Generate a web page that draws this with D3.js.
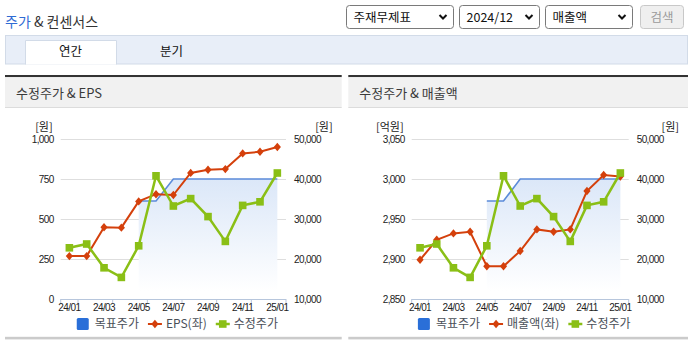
<!DOCTYPE html>
<html>
<head>
<meta charset="utf-8">
<script src="https://cdn.jsdelivr.net/npm/d3@7"></script>
<style>
  html, body { margin: 0; padding: 0; background: #fff; }
  svg { display: block; font-family: "Noto Sans CJK KR", "Noto Sans", sans-serif; }
  .num { font-family: "Liberation Sans", Arial, sans-serif; font-size: 10px; letter-spacing: -0.6px; fill: #222; }
</style>
</head>
<body>
<svg id="page" width="693" height="341"></svg>
<script>
// ---- data ----
const months = ["24/01","24/02","24/03","24/04","24/05","24/06","24/07","24/08","24/09","24/10","24/11","24/12","25/01"];
const monthTicks = ["24/01","24/03","24/05","24/07","24/09","24/11","25/01"];
const eps = [268, 268, 448, 446, 610, 655, 650, 788, 808, 812, 910, 920, 950];
const sales = [2899, 2924, 2932, 2934, 2891, 2891, 2910, 2937, 2934, 2937, 2985, 3005, 3003];
const adjPrice = [22800, 23750, 17800, 15400, 23300, 40800, 33250, 35100, 30600, 24400, 33400, 34300, 41500];
const targetPrice = [null, null, null, null, 34500, 34500, 40000, 40000, 40000, 40000, 40000, 40000, 40000];
const epsTicks = [0, 250, 500, 750, 1000];
const salesTicks = [2850, 2900, 2950, 3000, 3050];
const priceTicks = [10000, 20000, 30000, 40000, 50000];
const filterLabels = ["주재무제표", "2024/12", "매출액"];
const tabLabels = ["연간", "분기"];

const svg = d3.select("#page");
const defs = svg.append("defs");
const grad = defs.append("linearGradient").attr("id", "targetFill")
  .attr("x1", 0).attr("y1", 0).attr("x2", 0).attr("y2", 1);
grad.append("stop").attr("offset", "0%").attr("stop-color", "#dbe7f8");
grad.append("stop").attr("offset", "100%").attr("stop-color", "#ffffff");

// ---- page header ----
const title = svg.append("text").attr("x", 5).attr("y", 26.5).style("font-size", "14px");
title.append("tspan").attr("fill", "#2f6bd4").text("주가");
title.append("tspan").attr("fill", "#333").text(" & 컨센서스");

const selectBoxes = [
  { x: 346.5, w: 107 },
  { x: 459.5, w: 80 },
  { x: 545.5, w: 87 }
];
selectBoxes.forEach((b, i) => {
  const g = svg.append("g").attr("transform", `translate(${b.x},5.5)`);
  g.append("rect").attr("width", b.w).attr("height", 23).attr("rx", 3)
    .attr("fill", "#fff").attr("stroke", "#7a7a7a");
  g.append("text").attr("x", 7).attr("y", 16.5).attr("fill", "#111")
    .style("font-size", "12.5px").text(filterLabels[i]);
  g.append("path").attr("d", `M${b.w - 14},9.5 L${b.w - 10.5},13 L${b.w - 7},9.5`)
    .attr("fill", "none").attr("stroke", "#111").attr("stroke-width", 2);
});
const btn = svg.append("g").attr("transform", "translate(640.5,5.5)");
btn.append("rect").attr("width", 43).attr("height", 23).attr("rx", 3)
  .attr("fill", "#efefef").attr("stroke", "#c8c8c8");
btn.append("text").attr("x", 21.5).attr("y", 16.5).attr("text-anchor", "middle")
  .attr("fill", "#9a9a9a").style("font-size", "12.5px").text("검색");

// ---- tab bar ----
svg.append("rect").attr("x", 5.5).attr("y", 35.5).attr("width", 682).attr("height", 28.5)
  .attr("fill", "#e8eef8").attr("stroke", "#d2dbe8");
svg.append("rect").attr("x", 25.5).attr("y", 40.5).attr("width", 91).attr("height", 24)
  .attr("fill", "#fff");
svg.append("path").attr("d", "M25.5,64.5 V40.5 H116.5 V64.5")
  .attr("fill", "none").attr("stroke", "#d2dbe8");
svg.append("text").attr("x", 70.5).attr("y", 56).attr("text-anchor", "middle")
  .attr("fill", "#111").style("font-size", "12.5px").text(tabLabels[0]);
svg.append("text").attr("x", 171.5).attr("y", 56).attr("text-anchor", "middle")
  .attr("fill", "#111").style("font-size", "12.5px").text(tabLabels[1]);

// ---- chart panels ----
const panels = [
  { x0: 5, x1: 341.7, plot: [60.7, 286], title: "수정주가 & EPS",
    leftUnit: "[원]", values: eps, domain: [0, 1000], ticks: epsTicks, name: "EPS(좌)" },
  { x0: 348.3, x1: 688, plot: [411.7, 628.7], title: "수정주가 & 매출액",
    leftUnit: "[억원]", values: sales, domain: [2850, 3050], ticks: salesTicks, name: "매출액(좌)" }
];

const plotTop = 139, plotBottom = 299;
const diamondPath = "M0,-4.2L3.6,0L0,4.2L-3.6,0Z";

panels.forEach(p => {
  const g = svg.append("g");
  // panel frame
  g.append("rect").attr("x", p.x0).attr("y", 75).attr("width", p.x1 - p.x0).attr("height", 2.2).attr("fill", "#333");
  g.append("rect").attr("x", p.x0).attr("y", 77.2).attr("width", p.x1 - p.x0).attr("height", 30).attr("fill", "#f1f1f1");
  g.append("rect").attr("x", p.x0).attr("y", 107).attr("width", p.x1 - p.x0).attr("height", 1).attr("fill", "#dcdcdc");
  g.append("rect").attr("x", p.x0).attr("y", 336.8).attr("width", p.x1 - p.x0).attr("height", 2.6).attr("fill", "#cbcbcb");
  g.append("text").attr("x", p.x0 + 11).attr("y", 97.8).attr("fill", "#3a3a3a")
    .style("font-size", "13px").text(p.title);

  // scales
  const x = d3.scaleBand().domain(months).range(p.plot).padding(0);
  const cx = d => x(d) + x.bandwidth() / 2;
  const yL = d3.scaleLinear().domain(p.domain).range([plotBottom, plotTop]);
  const yR = d3.scaleLinear().domain([priceTicks[0], priceTicks[priceTicks.length - 1]]).range([plotBottom, plotTop]);

  // gridlines
  g.append("g").selectAll("line").data(p.ticks.slice(1)).join("line")
    .attr("x1", p.plot[0]).attr("x2", p.plot[1])
    .attr("y1", d => Math.round(yL(d)) + 0.5).attr("y2", d => Math.round(yL(d)) + 0.5)
    .attr("stroke", "#dedede");

  // left axis
  const la = g.append("g").attr("transform", `translate(${p.plot[0] - 7},0)`)
    .call(d3.axisLeft(yL).tickValues(p.ticks).tickSize(0).tickPadding(0).tickFormat(d3.format(",")));
  la.select(".domain").remove();
  la.selectAll("text").attr("class", "num").attr("fill", null).attr("dy", "0.35em");
  g.append("text").attr("x", p.plot[0] - 8).attr("y", 131).attr("text-anchor", "end")
    .attr("fill", "#222").style("font-size", "11px").text(p.leftUnit);

  // right axis
  const ra = g.append("g").attr("transform", `translate(${p.plot[1] + 8},0)`)
    .call(d3.axisRight(yR).tickValues(priceTicks).tickSize(0).tickPadding(0).tickFormat(d3.format(",")));
  ra.select(".domain").remove();
  ra.selectAll("text").attr("class", "num").attr("fill", null).attr("dy", "0.35em");
  g.append("text").attr("x", p.x1 - 9).attr("y", 131).attr("text-anchor", "end")
    .attr("fill", "#222").style("font-size", "11px").text("[원]");

  // bottom axis: line, boundary ticks and month labels
  g.append("line").attr("x1", p.plot[0]).attr("x2", p.plot[1])
    .attr("y1", plotBottom + 0.5).attr("y2", plotBottom + 0.5).attr("stroke", "#b7c6dc");
  const boundaryIdx = [0, 1, 3, 5, 7, 9, 11, 13];
  g.append("g").selectAll("line").data(boundaryIdx).join("line")
    .attr("x1", i => p.plot[0] + i * x.bandwidth()).attr("x2", i => p.plot[0] + i * x.bandwidth())
    .attr("y1", plotBottom).attr("y2", plotBottom + 5).attr("stroke", "#b7c6dc");
  const ba = g.append("g").attr("transform", `translate(0,${plotBottom + 5})`)
    .call(d3.axisBottom(x).tickValues(monthTicks).tickSize(0).tickPadding(0));
  ba.select(".domain").remove();
  ba.selectAll("text").attr("class", "num").attr("fill", null).attr("dy", "0.71em");

  // target price area + line
  const tIdx = months.map((m, i) => ({ m, v: targetPrice[i] }));
  g.append("path").datum(tIdx)
    .attr("d", d3.area().defined(d => d.v != null).x(d => cx(d.m)).y0(plotBottom - 8).y1(d => yR(d.v)))
    .attr("fill", "url(#targetFill)");
  g.append("path").datum(tIdx)
    .attr("d", d3.line().defined(d => d.v != null).x(d => cx(d.m)).y(d => yR(d.v)))
    .attr("fill", "none").attr("stroke", "#5b8bd9").attr("stroke-width", 1.6);

  // left-axis series (red diamonds)
  const lv = months.map((m, i) => ({ m, v: p.values[i] }));
  g.append("path").datum(lv)
    .attr("d", d3.line().x(d => cx(d.m)).y(d => yL(d.v)))
    .attr("fill", "none").attr("stroke", "#d4400c").attr("stroke-width", 2);
  g.append("g").selectAll("path").data(lv).join("path")
    .attr("transform", d => `translate(${cx(d.m)},${yL(d.v)})`)
    .attr("d", diamondPath).attr("fill", "#d4400c");

  // adjusted price (green squares)
  const pv = months.map((m, i) => ({ m, v: adjPrice[i] }));
  g.append("path").datum(pv)
    .attr("d", d3.line().x(d => cx(d.m)).y(d => yR(d.v)))
    .attr("fill", "none").attr("stroke", "#8abf16").attr("stroke-width", 2.5);
  g.append("g").selectAll("rect").data(pv).join("rect")
    .attr("x", d => cx(d.m) - 3.8).attr("y", d => yR(d.v) - 3.8)
    .attr("width", 7.6).attr("height", 7.6).attr("fill", "#8abf16");

  // legend
  const lg = g.append("g");
  const items = [
    { label: "목표주가", kind: "square" },
    { label: p.name, kind: "diamond" },
    { label: "수정주가", kind: "greensq" }
  ];
  let cursor = 0;
  items.forEach(it => {
    const ig = lg.append("g");
    let sw;
    if (it.kind === "square") {
      ig.append("rect").attr("x", 0).attr("y", -6).attr("width", 12).attr("height", 12).attr("rx", 1.5).attr("fill", "#2a6fd8");
      sw = 12;
    } else if (it.kind === "diamond") {
      ig.append("line").attr("x1", 0).attr("x2", 14).attr("y1", 0).attr("y2", 0).attr("stroke", "#d4400c").attr("stroke-width", 2);
      ig.append("path").attr("transform", "translate(7,0)").attr("d", diamondPath).attr("fill", "#d4400c");
      sw = 14;
    } else {
      ig.append("line").attr("x1", 0).attr("x2", 14).attr("y1", 0).attr("y2", 0).attr("stroke", "#8abf16").attr("stroke-width", 2.5);
      ig.append("rect").attr("x", 3.2).attr("y", -3.8).attr("width", 7.6).attr("height", 7.6).attr("fill", "#8abf16");
      sw = 14;
    }
    const gap = it.kind === "square" ? 6 : 4;
    const t = ig.append("text").attr("x", sw + gap).attr("y", 4.3)
      .attr("fill", "#4a4f58").style("font-size", "12px").text(it.label);
    const w = sw + gap + t.node().getComputedTextLength();
    ig.attr("transform", `translate(${cursor},0)`);
    cursor += w + 9;
  });
  const total = cursor - 9;
  const center = (p.plot[0] + p.plot[1]) / 2 + 4;
  lg.attr("transform", `translate(${center - total / 2},324)`);
});
</script>
</body>
</html>
